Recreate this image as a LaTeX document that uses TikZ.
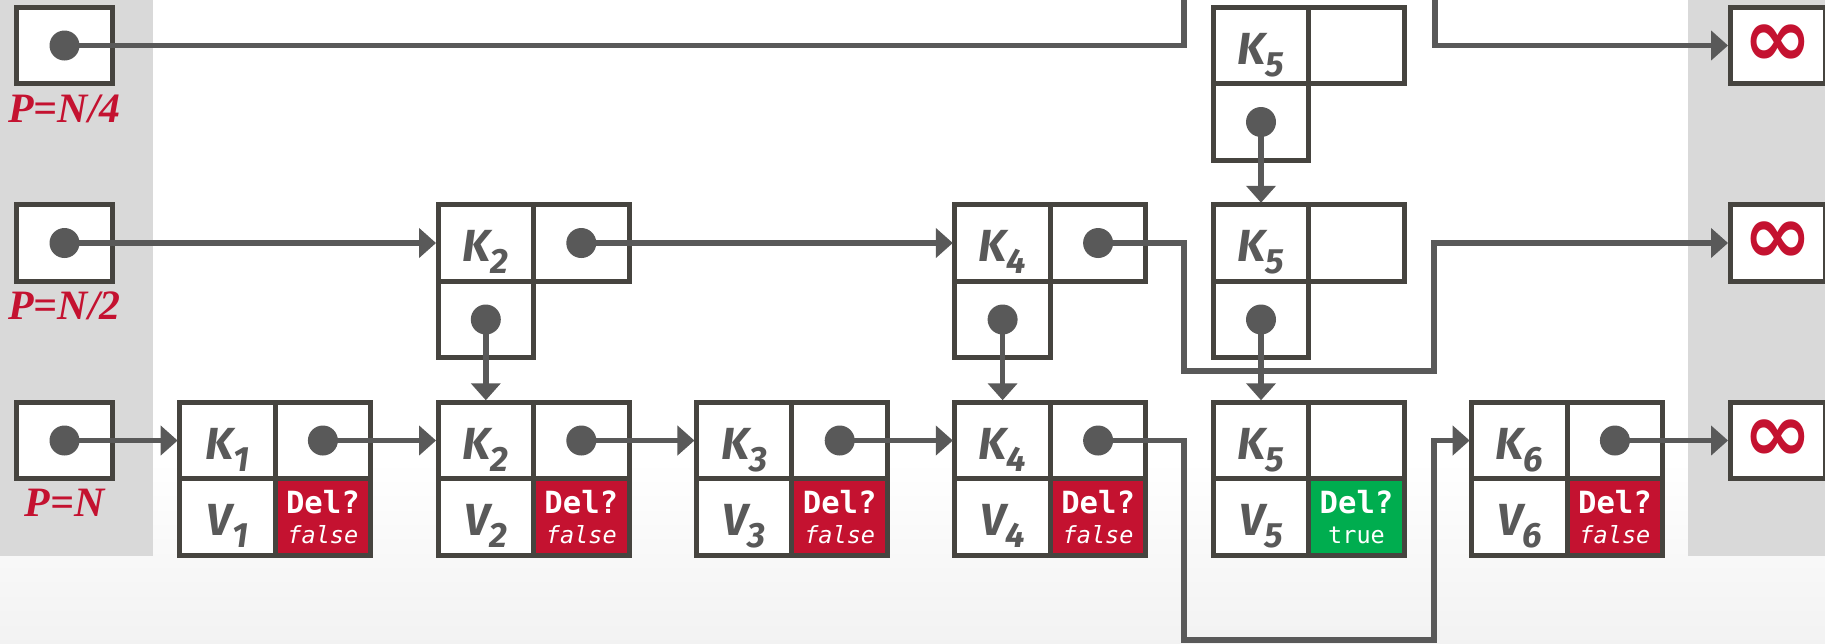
\documentclass[tikz,border=0pt]{standalone}
\usepackage{fontspec}
\usepackage{tikz}
\usetikzlibrary{arrows.meta,positioning}
\newfontfamily\keyfont{Fira Sans}
\newfontfamily\delfont{DejaVu Sans Mono}
\newfontfamily\labfont{Liberation Serif}
\newfontfamily\inffont{DejaVu Sans}
\newcommand{\keysub}[2]{#1\raisebox{-0.27em}[0pt][0pt]{\fontsize{10}{10}\selectfont#2}}
\newcommand{\flagfont}{\fontsize{6.7}{7}\selectfont}
\definecolor{boxgray}{HTML}{46443F}
\definecolor{linkgray}{HTML}{595959}
\definecolor{delred}{HTML}{C41230}
\definecolor{truegreen}{HTML}{00AD4F}
\definecolor{stripgray}{HTML}{D9D9D9}
\tikzset{
  cell/.style={draw=boxgray,line width=0.05cm,fill=white,minimum width=0.955cm,
    minimum height=0.765cm,inner sep=0pt,outer sep=0pt},
  keycell/.style={cell,text=linkgray,text height=0.373cm,
    font=\keyfont\bfseries\itshape\fontsize{12.8}{14}\selectfont},
  ptrcell/.style={cell,path picture={\fill[linkgray] (path picture bounding box.center) circle (0.15cm);}},
  delcell/.style={cell,fill=delred,text=white,align=center,
    font=\delfont\fontsize{8.7}{8.6}\selectfont},
  truecell/.style={delcell,fill=truegreen},
  infcell/.style={cell,text=delred,font=\inffont\bfseries\fontsize{23.5}{23.5}\selectfont},
  plabel/.style={text=delred,inner sep=0pt,font=\labfont\bfseries\itshape\fontsize{11.9}{13}\selectfont},
  link/.style={draw=linkgray,line width=0.055cm,shorten >=0.02cm,-{Triangle[length=0.17cm,width=0.29cm]}}
}
\begin{document}
\begin{tikzpicture}[node distance=1.21cm and 0.674cm]
\useasboundingbox (0,0) rectangle (18.25,-6.43);
\clip (0,0) rectangle (18.25,-6.43);
\fill[white] (0,0) rectangle (18.25,-6.43);
\shade[top color=white,bottom color=black!5] (0,-4.6) rectangle (18.25,-6.43);
\fill[stripgray] (0,0) rectangle (1.53,-5.56);
\fill[stripgray] (16.88,0) rectangle (18.25,-5.56);

\node[ptrcell] (pn) at (0.645,-4.405) {};
\node[keycell,right=of pn] (k1) {\keysub{K}{1}};
\node[ptrcell,right=0pt of k1] (p1) {};
\node[keycell,below=0pt of k1] (v1) {\keysub{V}{1}};
\node[delcell,below=0pt of p1] (d1) {{\bfseries Del?}\\{\flagfont\itshape false}};
\node[keycell,right=of p1] (k2) {\keysub{K}{2}};
\node[ptrcell,right=0pt of k2] (p2) {};
\node[keycell,below=0pt of k2] (v2) {\keysub{V}{2}};
\node[delcell,below=0pt of p2] (d2) {{\bfseries Del?}\\{\flagfont\itshape false}};
\node[keycell,right=of p2] (k3) {\keysub{K}{3}};
\node[ptrcell,right=0pt of k3] (p3) {};
\node[keycell,below=0pt of k3] (v3) {\keysub{V}{3}};
\node[delcell,below=0pt of p3] (d3) {{\bfseries Del?}\\{\flagfont\itshape false}};
\node[keycell,right=of p3] (k4) {\keysub{K}{4}};
\node[ptrcell,right=0pt of k4] (p4) {};
\node[keycell,below=0pt of k4] (v4) {\keysub{V}{4}};
\node[delcell,below=0pt of p4] (d4) {{\bfseries Del?}\\{\flagfont\itshape false}};
\node[keycell,right=of p4] (k5) {\keysub{K}{5}};
\node[cell,right=0pt of k5] (p5) {};
\node[keycell,below=0pt of k5] (v5) {\keysub{V}{5}};
\node[truecell,below=0pt of p5] (d5) {{\bfseries Del?}\\{\flagfont true}};
\node[keycell,right=of p5] (k6) {\keysub{K}{6}};
\node[ptrcell,right=0pt of k6] (p6) {};
\node[keycell,below=0pt of k6] (v6) {\keysub{V}{6}};
\node[delcell,below=0pt of p6] (d6) {{\bfseries Del?}\\{\flagfont\itshape false}};
\node[infcell,right=of p6] (infn) {∞};

\node[ptrcell,above=of pn] (pn2) {};
\node[keycell,above=of k2] (bk2) {\keysub{K}{2}};
\node[ptrcell,right=0pt of bk2] (bp2) {};
\node[ptrcell,below=0pt of bk2] (bd2) {};
\node[keycell,above=of k4] (bk4) {\keysub{K}{4}};
\node[ptrcell,right=0pt of bk4] (bp4) {};
\node[ptrcell,below=0pt of bk4] (bd4) {};
\node[keycell,above=of k5] (bk5) {\keysub{K}{5}};
\node[cell,right=0pt of bk5] (bp5) {};
\node[ptrcell,below=0pt of bk5] (bd5) {};
\node[infcell,above=of infn] (inf2) {∞};

\node[ptrcell,above=of pn2] (pn4) {};
\node[keycell,above=of bk5] (ak5) {\keysub{K}{5}};
\node[cell,right=0pt of ak5] (ap5) {};
\node[ptrcell,below=0pt of ak5] (ad5) {};
\node[infcell,above=of inf2] (inf4) {∞};

\node[plabel,below=0.1cm of pn4] (lab4) {P=N/4};
\node[plabel,below=0.1cm of pn2] (lab2) {P=N/2};
\node[plabel,below=0.1cm of pn] (lab1) {P=N};

\coordinate (upA) at (11.84,0.4);
\coordinate (downA) at (14.35,0.4);
\coordinate (dropB) at (11.84,-3.71);
\coordinate (riseB) at (14.34,-3.71);
\coordinate (dropC) at (11.84,-6.40);
\coordinate (riseC) at (14.34,-6.40);

\draw[link] (pn.center) -- (k1.west);
\draw[link] (p1.center) -- (k2.west);
\draw[link] (p2.center) -- (k3.west);
\draw[link] (p3.center) -- (k4.west);
\draw[link] (p4.center) -| (dropC) -- (riseC) |- (k6.west);
\draw[link] (p6.center) -- (infn.west);
\draw[link] (pn2.center) -- (bk2.west);
\draw[link] (bp2.center) -- (bk4.west);
\draw[link] (bp4.center) -| (dropB) -- (riseB) |- (inf2.west);
\draw[link] (pn4.center) -| (upA) -- (downA) |- (inf4.west);
\draw[link] (bd2.center) -- (k2.north);
\draw[link] (bd4.center) -- (k4.north);
\draw[link] (ad5.center) -- (bk5.north);
\draw[link] (bd5.center) -- (k5.north);
\end{tikzpicture}
\end{document}
